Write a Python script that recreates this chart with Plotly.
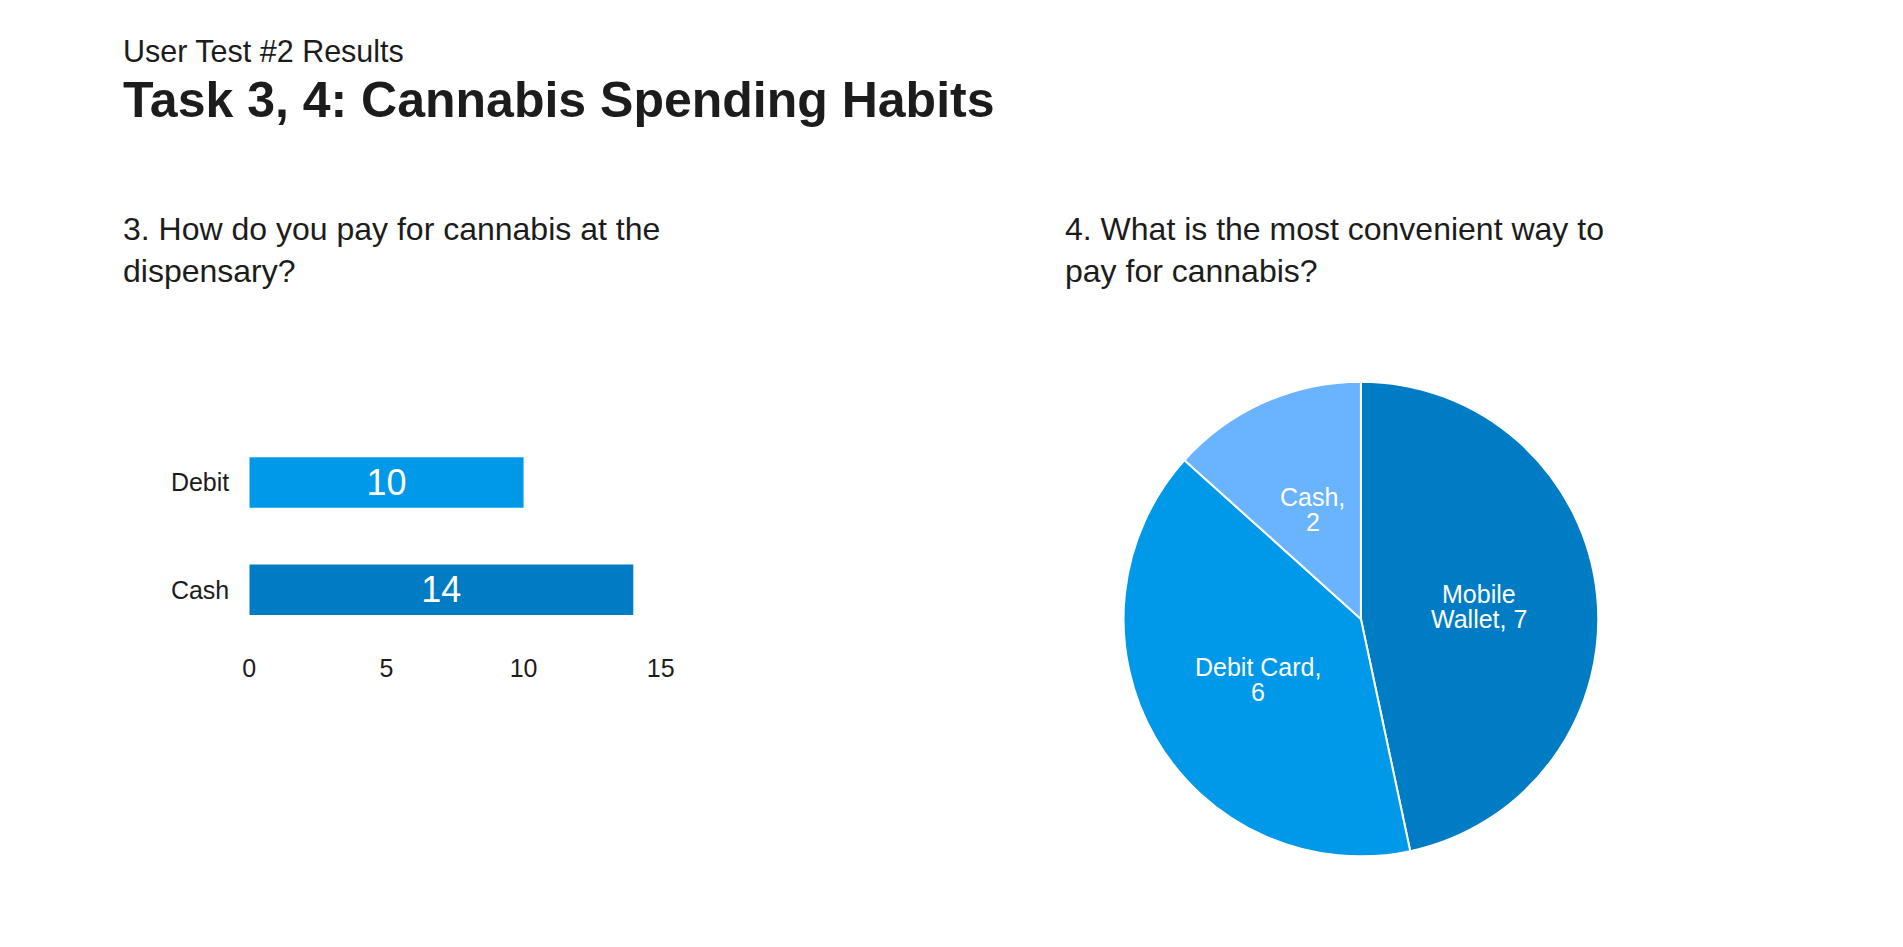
import math
import plotly.graph_objects as go

# ---- data ----
bar_categories = ["Cash", "Debit"]
bar_values = [14, 10]
bar_colors = ["#007CC5", "#0098E8"]
bar_ticks = [0, 5, 10, 15]

pie_labels = ["Mobile Wallet", "Debit Card", "Cash"]
pie_values = [7, 6, 2]
pie_colors = ["#007CC5", "#0098E8", "#6AB3FF"]

subtitle = "User Test #2 Results"
title = "Task 3, 4: Cannabis Spending Habits"
q3 = "3. How do you pay for cannabis at the<br>dispensary?"
q4 = "4. What is the most convenient way to<br>pay for cannabis?"

FONT = "Liberation Sans, Arial, Helvetica, sans-serif"
TXT = "#1c1c1c"

W, H = 1903, 947

# pie geometry (pixels)
PIE_CX, PIE_CY, PIE_R = 1369, 619, 240
pie_domain_x = [(PIE_CX - PIE_R) / W, (PIE_CX + PIE_R) / W]
pie_domain_y = [1 - (PIE_CY + PIE_R) / H, 1 - (PIE_CY - PIE_R) / H]

fig = go.Figure()

fig.add_trace(go.Bar(
    x=bar_values, y=bar_categories, orientation="h",
    marker=dict(color=bar_colors, line=dict(width=0)),
    width=0.47,
    texttemplate="%{x}",
    textposition="inside", insidetextanchor="middle",
    textfont=dict(color="white", size=36, family=FONT),
    constraintext="none",
    hoverinfo="skip", showlegend=False,
))

fig.add_trace(go.Pie(
    labels=pie_labels, values=pie_values,
    textinfo="none",
    sort=False, direction="clockwise", rotation=0,
    marker=dict(colors=pie_colors, line=dict(color="white", width=2)),
    domain=dict(x=pie_domain_x, y=pie_domain_y),
    showlegend=False, hoverinfo="skip",
))

annotations = [
    dict(text=subtitle, x=115 / W, y=1 - 51 / H, xref="paper", yref="paper",
         xanchor="left", yanchor="middle", showarrow=False,
         font=dict(size=30.5, color=TXT)),
    dict(text="<b>" + title + "</b>", x=115 / W, y=1 - 100 / H, xref="paper", yref="paper",
         xanchor="left", yanchor="middle", showarrow=False,
         font=dict(size=50, color=TXT)),
    dict(text=q3, x=115 / W, y=1 - 250 / H, xref="paper", yref="paper",
         xanchor="left", yanchor="middle", align="left", showarrow=False,
         font=dict(size=32, color=TXT)),
    dict(text=q4, x=1068 / W, y=1 - 250 / H, xref="paper", yref="paper",
         xanchor="left", yanchor="middle", align="left", showarrow=False,
         font=dict(size=32, color=TXT)),
]

# pie slice labels placed at half radius along each slice's mid-angle (clockwise from 12 o'clock)
total = sum(pie_values)
cum = 0
LINE_GAP = 25
for lab, val in zip(pie_labels, pie_values):
    mid = (cum + val / 2) / total * 2 * math.pi
    cum += val
    px = PIE_CX + 0.5 * PIE_R * math.sin(mid)
    py = PIE_CY - 0.5 * PIE_R * math.cos(mid)
    if lab == "Mobile Wallet":
        first, rest = lab.split(" ", 1)
        lines = [first, f"{rest}, {val}"]
    else:
        lines = [f"{lab},", f"{val}"]
    for i, line in enumerate(lines):
        ly = py + (i - (len(lines) - 1) / 2) * LINE_GAP
        annotations.append(dict(
            text=line, x=px / W, y=1 - ly / H, xref="paper", yref="paper",
            xanchor="center", yanchor="middle", showarrow=False,
            font=dict(size=25, color="white", family=FONT)))

fig.update_layout(
    width=W, height=H,
    margin=dict(l=0, r=0, t=0, b=0),
    paper_bgcolor="white", plot_bgcolor="white",
    font=dict(family=FONT, color=TXT),
    xaxis=dict(domain=[245 / W, 661 / W], range=[0, 15], tickvals=bar_ticks,
               showgrid=False, zeroline=False, showline=False, ticks="",
               tickfont=dict(size=25, color=TXT), ticklabelstandoff=7,
               fixedrange=True),
    yaxis=dict(domain=[1 - 643.5 / H, 1 - 428.7 / H], range=[-0.5, 1.5], type="category",
               showgrid=False, zeroline=False, showline=False, ticks="",
               tickfont=dict(size=25, color=TXT), ticklabelstandoff=19,
               fixedrange=True),
    annotations=annotations,
)

fig.write_html("out.html", config={"displayModeBar": False},
               post_script="document.body.style.margin='0px';document.body.style.overflow='hidden';")
